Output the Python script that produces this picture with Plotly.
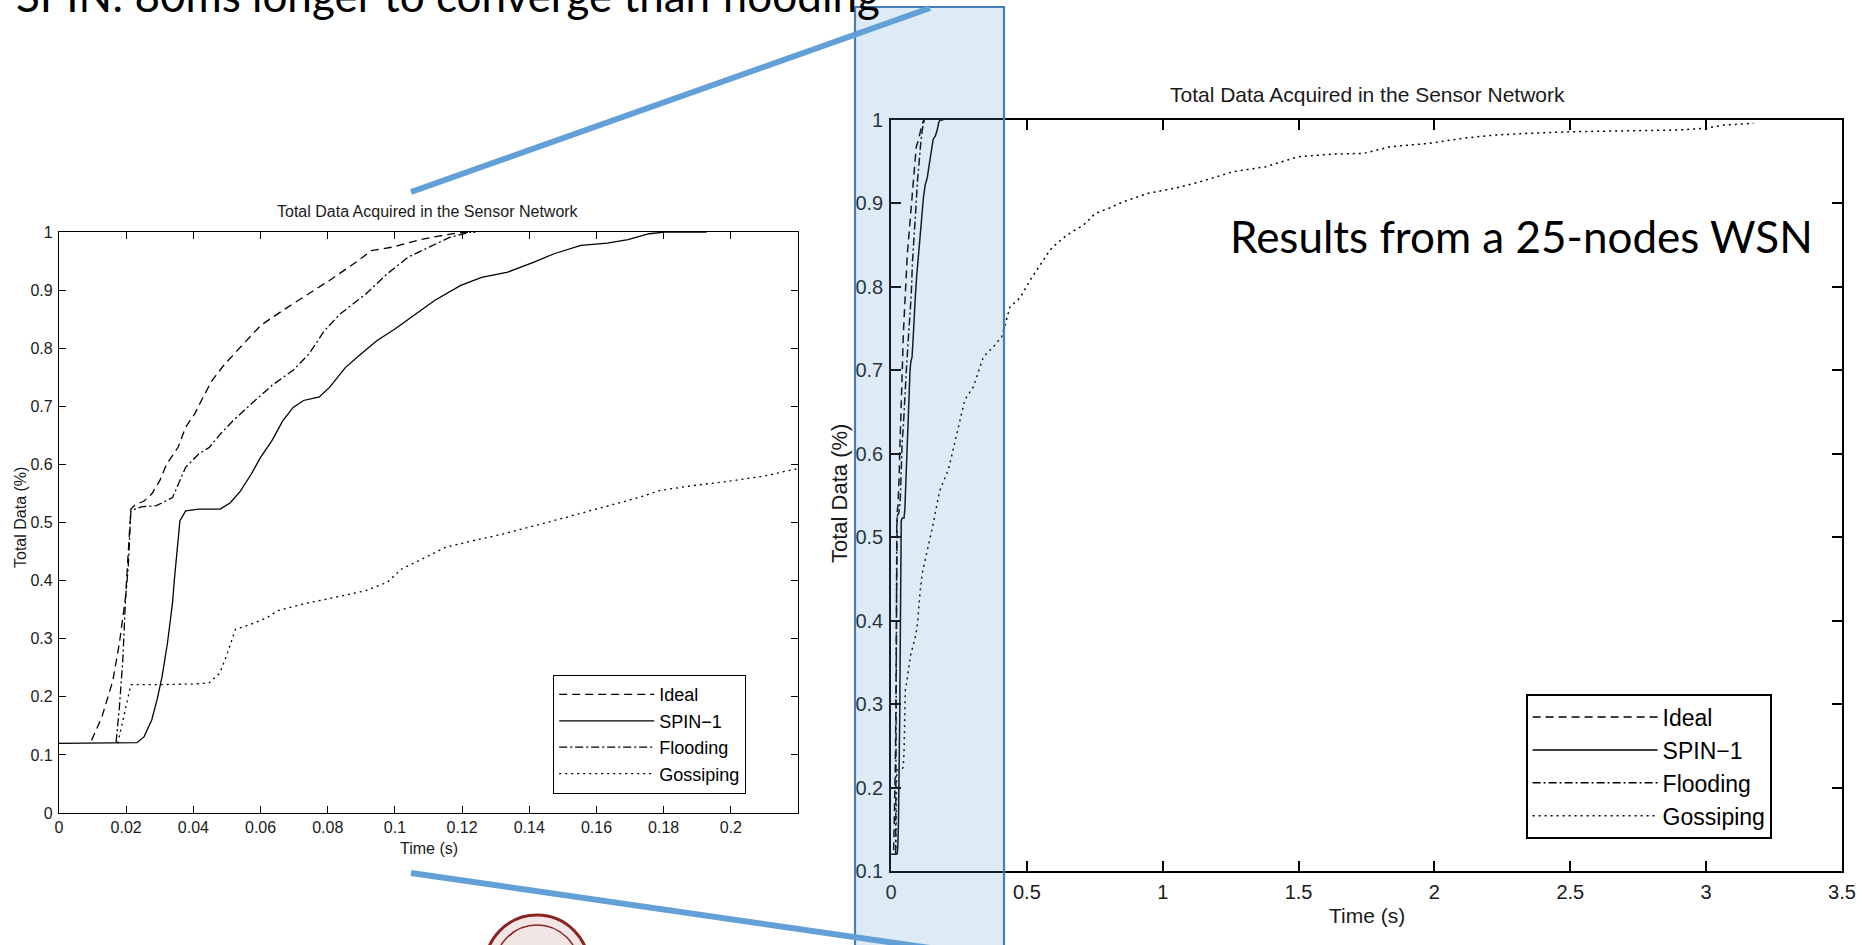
import plotly.graph_objects as go

# ---------------- data ----------------
series_names = ["Ideal", "SPIN\u22121", "Flooding", "Gossiping"]

ideal_t = [0.0097, 0.0128, 0.016, 0.018, 0.0198, 0.0206, 0.0214, 0.0226, 0.0253, 0.0276,
           0.030, 0.032, 0.0354, 0.0377, 0.0404, 0.0424, 0.0455, 0.0494, 0.054, 0.060,
           0.0666, 0.0728, 0.0806, 0.0884, 0.093, 0.0993, 0.107, 0.113, 0.1196, 0.124]
ideal_v = [0.125, 0.166, 0.227, 0.293, 0.371, 0.445, 0.523, 0.530, 0.537, 0.549,
           0.572, 0.600, 0.629, 0.664, 0.687, 0.710, 0.744, 0.773, 0.802, 0.839,
           0.865, 0.888, 0.917, 0.948, 0.968, 0.974, 0.986, 0.993, 0.999, 1.0]

spin_t = [0.0, 0.020, 0.0232, 0.0253, 0.0276, 0.0292, 0.0307, 0.0323, 0.0338, 0.0343,
          0.0354, 0.036, 0.0377, 0.0416, 0.048, 0.051, 0.054, 0.0572, 0.060, 0.0634,
          0.0666, 0.0697, 0.0728, 0.0775, 0.0806, 0.0853, 0.0899, 0.0946, 0.100, 0.1055,
          0.1118, 0.1196, 0.1258, 0.1336, 0.1414, 0.1476, 0.1554, 0.1632, 0.1694, 0.1757,
          0.1804, 0.1928]
spin_v = [0.12, 0.12, 0.121, 0.131, 0.160, 0.195, 0.235, 0.293, 0.362, 0.399,
          0.463, 0.503, 0.520, 0.523, 0.523, 0.534, 0.554, 0.583, 0.612, 0.641,
          0.675, 0.698, 0.710, 0.716, 0.733, 0.767, 0.790, 0.813, 0.833, 0.856,
          0.882, 0.908, 0.922, 0.931, 0.948, 0.963, 0.977, 0.981, 0.987, 0.997,
          1.0, 1.0]

flood_t = [0.017, 0.018, 0.019, 0.0198, 0.0206, 0.0214, 0.0245, 0.029, 0.0338, 0.036,
           0.0377, 0.0416, 0.0447, 0.048, 0.0518, 0.0572, 0.0634, 0.0697, 0.0744, 0.079,
           0.0837, 0.0915, 0.0977, 0.104, 0.110, 0.1164, 0.1227]
flood_v = [0.122, 0.183, 0.264, 0.368, 0.422, 0.520, 0.527, 0.529, 0.543, 0.572,
           0.595, 0.618, 0.629, 0.652, 0.675, 0.704, 0.736, 0.762, 0.790, 0.830,
           0.859, 0.894, 0.928, 0.957, 0.974, 0.991, 1.0]

goss_t = [0.0175, 0.0195, 0.0214, 0.030, 0.040, 0.0447, 0.0479, 0.0502, 0.0525, 0.0572,
          0.0619, 0.065, 0.0728, 0.0821, 0.0915, 0.0977, 0.102, 0.107, 0.115, 0.1227,
          0.132, 0.1414, 0.154, 0.163, 0.1726, 0.1788, 0.188, 0.2006, 0.210, 0.2193,
          0.242, 0.272, 0.303, 0.340, 0.376, 0.407, 0.438, 0.475, 0.512, 0.548,
          0.585, 0.610, 0.647, 0.708, 0.752, 0.800, 0.855, 0.945, 1.042, 1.138,
          1.258, 1.379, 1.499, 1.620, 1.740, 1.837, 1.982, 2.102, 2.223, 2.343,
          2.512, 2.704, 2.897, 2.994, 3.066, 3.174]
goss_v = [0.120, 0.170, 0.221, 0.221, 0.222, 0.224, 0.241, 0.276, 0.316, 0.325,
          0.336, 0.348, 0.360, 0.371, 0.383, 0.397, 0.420, 0.434, 0.457, 0.468,
          0.480, 0.494, 0.514, 0.529, 0.543, 0.555, 0.563, 0.572, 0.580, 0.592,
          0.625, 0.665, 0.680, 0.716, 0.728, 0.740, 0.776, 0.787, 0.808, 0.826,
          0.844, 0.852, 0.862, 0.874, 0.888, 0.894, 0.902, 0.912, 0.918, 0.926,
          0.938, 0.944, 0.956, 0.959, 0.960, 0.968, 0.972, 0.978, 0.982, 0.984,
          0.986, 0.987, 0.988, 0.990, 0.994, 0.996]

left_xticks = [0, 0.02, 0.04, 0.06, 0.08, 0.1, 0.12, 0.14, 0.16, 0.18, 0.2]
left_xlabels = ["0", "0.02", "0.04", "0.06", "0.08", "0.1", "0.12", "0.14", "0.16", "0.18", "0.2"]
left_yticks = [0, 0.1, 0.2, 0.3, 0.4, 0.5, 0.6, 0.7, 0.8, 0.9, 1.0]
left_ylabels = ["0", "0.1", "0.2", "0.3", "0.4", "0.5", "0.6", "0.7", "0.8", "0.9", "1"]
right_xticks = [0, 0.5, 1, 1.5, 2, 2.5, 3, 3.5]
right_xlabels = ["0", "0.5", "1", "1.5", "2", "2.5", "3", "3.5"]
right_yticks = [0.1, 0.2, 0.3, 0.4, 0.5, 0.6, 0.7, 0.8, 0.9, 1.0]
right_ylabels = ["0.1", "0.2", "0.3", "0.4", "0.5", "0.6", "0.7", "0.8", "0.9", "1"]

chart_title = "Total Data Acquired in the Sensor Network"
slide_title = "SPIN: 80ms longer to converge than flooding"
note_text = "Results from a 25-nodes WSN"

# ---------------- figure ----------------
W, H = 1867, 945
def px(x):
    return x / W
def py(y):
    return 1 - y / H

SANS = "Liberation Sans, Arial, sans-serif"
SLIDE = "Lato, Calibri, sans-serif"

series = [(ideal_t, ideal_v, "8px,5px"),
          (spin_t, spin_v, "solid"),
          (flood_t, flood_v, "8px,3px,2px,3px"),
          (goss_t, goss_v, "2px,4px")]

fig = go.Figure()
for (t, v, dash), name in zip(series, series_names):
    fig.add_trace(go.Scatter(x=t, y=v, mode="lines", name=name, xaxis="x", yaxis="y",
                             line=dict(color="black", width=1.3, dash=dash),
                             legend="legend", hoverinfo="skip"))
for (t, v, dash), name in zip(series, series_names):
    fig.add_trace(go.Scatter(x=t, y=v, mode="lines", name=name, xaxis="x2", yaxis="y2",
                             line=dict(color="black", width=1.5, dash=dash),
                             legend="legend2", hoverinfo="skip"))

def axis(domain, rng, vals, labels, anchor, size, ticklen, lw, standoff):
    return dict(domain=domain, range=rng, tickmode="array", tickvals=vals, ticktext=labels,
                ticks="inside", ticklen=ticklen, tickwidth=lw, tickcolor="black",
                showline=True, linecolor="black", linewidth=lw, mirror="ticks",
                showgrid=False, zeroline=False, anchor=anchor, ticklabelstandoff=standoff,
                automargin=False,
                tickfont=dict(family=SANS, size=size, color="#1a1a1a"))

fig.update_layout(
    width=W, height=H, autosize=False,
    margin=dict(l=0, r=0, t=0, b=0, pad=0, autoexpand=False),
    paper_bgcolor="white", plot_bgcolor="white",
    xaxis=axis([px(59), px(798)], [0, 0.22], left_xticks, left_xlabels, "y", 16, 7, 1.2, 0),
    yaxis=axis([py(813), py(232)], [0, 1], left_yticks, left_ylabels, "x", 16, 7, 1.2, 2),
    xaxis2=axis([px(891), px(1842)], [0, 3.5], right_xticks, right_xlabels, "y2", 20, 10, 1.6, 2),
    yaxis2=axis([py(871), py(120)], [0.1, 1], right_yticks, right_ylabels, "x2", 20, 10, 1.6, 2),
    legend=dict(x=px(553), y=py(675), xanchor="left", yanchor="top", bgcolor="white",
                bordercolor="black", borderwidth=1.2, itemwidth=95, tracegroupgap=0,
                font=dict(family=SANS, size=18, color="black")),
    legend2=dict(x=px(1526), y=py(694), xanchor="left", yanchor="top", bgcolor="white",
                 bordercolor="black", borderwidth=1.6, itemwidth=125, tracegroupgap=0,
                 font=dict(family=SANS, size=23, color="black")),
    showlegend=True,
)

ann = [
    dict(text=slide_title, x=px(14), y=1.005, xanchor="left", yanchor="middle",
         font=dict(family=SLIDE, size=44, color="black")),
    dict(text=note_text, x=px(1228), y=py(236), xanchor="left", yanchor="middle",
         font=dict(family=SLIDE, size=44, color="black")),
    dict(text=chart_title, x=px(428), y=py(212), xanchor="center", yanchor="middle",
         font=dict(family=SANS, size=16, color="#1a1a1a")),
    dict(text=chart_title, x=px(1367), y=py(95), xanchor="center", yanchor="middle",
         font=dict(family=SANS, size=21, color="#1a1a1a")),
    dict(text="Time (s)", x=px(429), y=py(848), xanchor="center", yanchor="middle",
         font=dict(family=SANS, size=16, color="#1a1a1a")),
    dict(text="Total Data (%)", x=px(20), y=py(518), xanchor="center", yanchor="middle",
         textangle=-90, font=dict(family=SANS, size=16, color="#1a1a1a")),
    dict(text="Time (s)", x=px(1367), y=py(915), xanchor="center", yanchor="middle",
         font=dict(family=SANS, size=21, color="#1a1a1a")),
    dict(text="Total Data (%)", x=px(839), y=py(494), xanchor="center", yanchor="middle",
         textangle=-90, font=dict(family=SANS, size=22, color="#1a1a1a")),
]
for a in ann:
    a.update(xref="paper", yref="paper", showarrow=False)
fig.update_layout(annotations=ann)

shapes = [
    # highlight rectangle over the start of the right chart
    dict(type="rect", x0=px(855), x1=px(1004), y0=-0.05, y1=py(7),
         fillcolor="rgba(91,155,213,0.2)", line=dict(color="rgb(70,125,180)", width=2.2),
         layer="above"),
    # connector lines
    dict(type="line", x0=px(411), y0=py(192), x1=px(930), y1=py(8),
         line=dict(color="rgb(100,160,216)", width=6), layer="above"),
    dict(type="line", x0=px(411), y0=py(873), x1=px(930), y1=py(948),
         line=dict(color="rgb(100,160,216)", width=6), layer="above"),
    # university seal (partially visible logo)
    dict(type="circle", x0=px(485), x1=px(589), y0=py(1019), y1=py(915),
         fillcolor="rgba(150,40,40,0.12)", line=dict(color="#8b2323", width=3), layer="above"),
    dict(type="circle", x0=px(495), x1=px(579), y0=py(1009), y1=py(925),
         fillcolor="rgba(0,0,0,0)", line=dict(color="#8b2323", width=1.5), layer="above"),
]
for s in shapes:
    s.update(xref="paper", yref="paper")
fig.update_layout(shapes=shapes)

fig.write_html("out.html", config={"displayModeBar": False},
               post_script="document.body.style.margin='0';document.body.style.overflow='hidden';")
